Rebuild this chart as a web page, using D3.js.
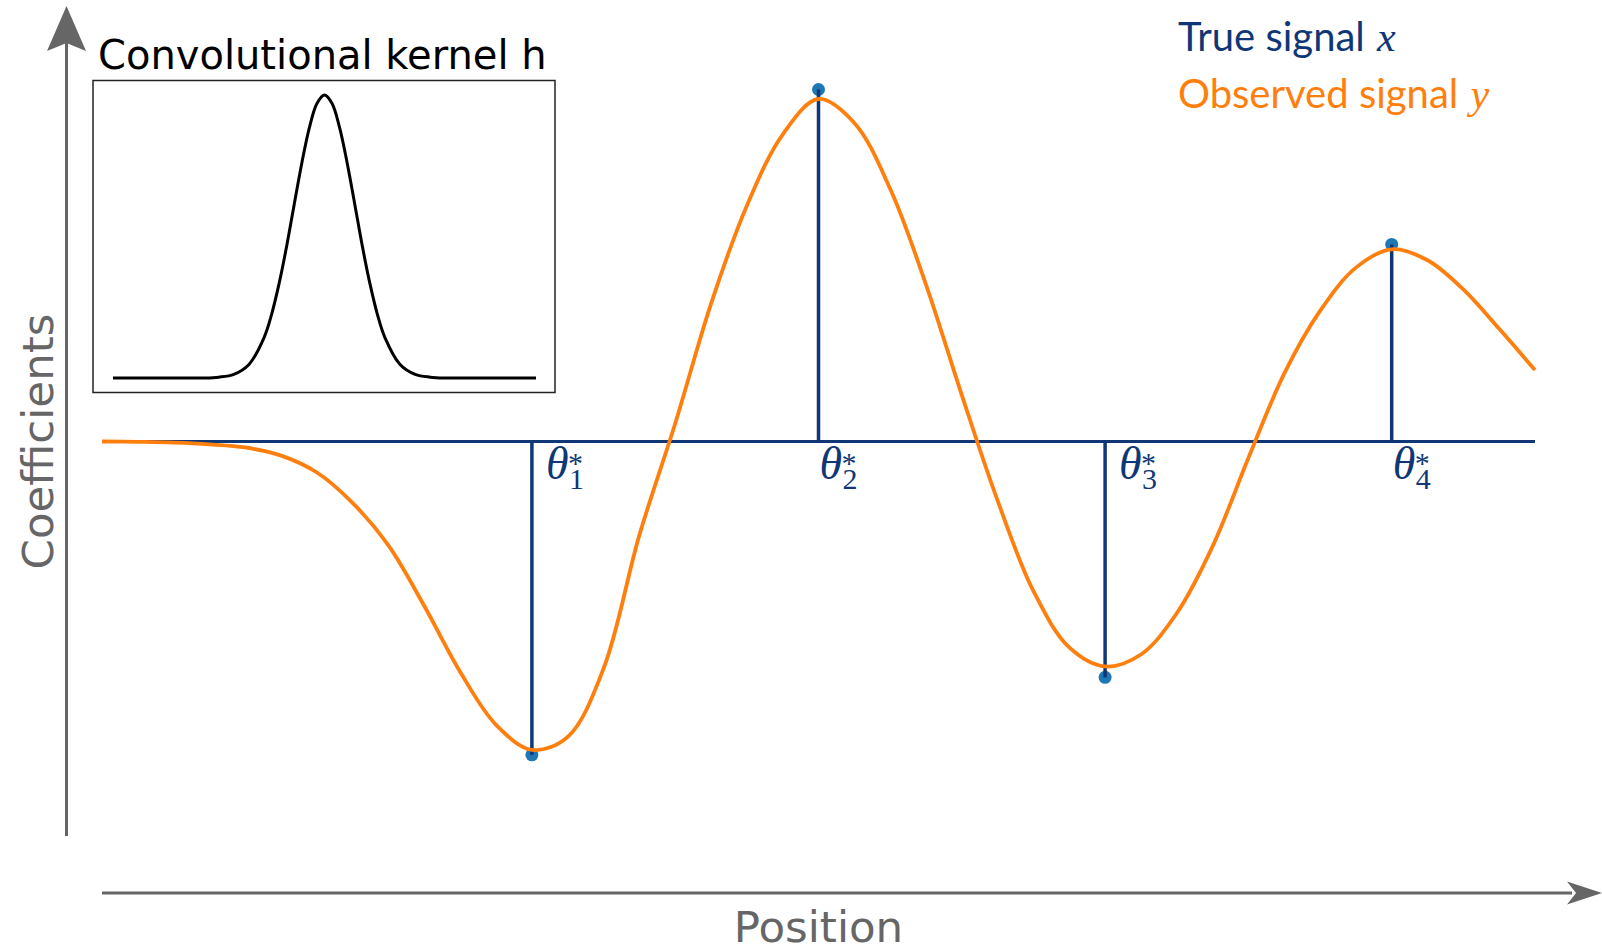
<!DOCTYPE html>
<html>
<head>
<meta charset="utf-8">
<script src="https://d3js.org/d3.v7.min.js"></script>
<style>
  body { margin: 0; background: #fff; }
</style>
</head>
<body>
<div id="chart"></div>
<script>
// spikes of the true signal x
const spikePos = [300, 500, 700, 900];
const spikeAmp = [-0.89, 1.0, -0.67, 0.56];
const spikeNames = ["1", "2", "3", "4"];

// observed signal y, sampled along the position axis
const obsPos = [0, 25, 50, 75, 100, 125, 150, 175, 200, 225, 250, 275, 300, 325, 350, 375, 400,
  425, 450, 475, 500, 525, 550, 575, 600, 625, 650, 675, 700, 725, 750, 775, 800, 825, 850, 875,
  900, 925, 950, 975, 1000];
const obsVal = [0, -0.001, -0.003, -0.008, -0.017, -0.040, -0.088, -0.175, -0.296, -0.468, -0.655,
  -0.805, -0.876, -0.839, -0.645, -0.266, 0.051, 0.391, 0.670, 0.872, 0.973, 0.905, 0.718, 0.446,
  0.132, -0.168, -0.425, -0.585, -0.639, -0.605, -0.488, -0.298, -0.047, 0.193, 0.371, 0.494,
  0.546, 0.515, 0.432, 0.320, 0.203];

// convolutional kernel h (inset)
const kernelPos = [-7, -6, -5, -4, -3.5, -3, -2.5, -2, -1.75, -1.5, -1.25, -1, -0.75, -0.5, -0.25, 0,
  0.25, 0.5, 0.75, 1, 1.25, 1.5, 1.75, 2, 2.5, 3, 3.5, 4, 5, 6, 7];
const kernelVal = [0, 0, 0, 0, 0.003, 0.013, 0.048, 0.143, 0.225, 0.335, 0.467, 0.615, 0.76, 0.885, 0.97, 1,
  0.97, 0.885, 0.76, 0.615, 0.467, 0.335, 0.225, 0.143, 0.048, 0.013, 0.003, 0, 0, 0, 0];

const W = 1602, H = 952;
const navy = "#0f3776";
const orange = "#ff7f0e";
const grey = "#666666";

const svg = d3.select("#chart").append("svg")
  .attr("width", W)
  .attr("height", H);

const x = d3.scaleLinear().domain([0, 1000]).range([102, 1535]);
const y = d3.scaleLinear().domain([-1, 1]).range([793.5, 89.5]);

// Axes (arrows)
svg.append("line")
  .attr("x1", 66.5).attr("x2", 66.5)
  .attr("y1", 836).attr("y2", 42)
  .attr("stroke", grey).attr("stroke-width", 3);
svg.append("path")
  .attr("d", "M66.5,6 L86,51 L66.5,43 L47,51 Z")
  .attr("fill", grey);

svg.append("line")
  .attr("x1", 102).attr("x2", 1572)
  .attr("y1", 893).attr("y2", 893)
  .attr("stroke", grey).attr("stroke-width", 3);
svg.append("path")
  .attr("d", "M1602,893 L1567,881.5 L1576,893 L1567,904.5 Z")
  .attr("fill", grey);

svg.append("text")
  .attr("x", 818.5)
  .attr("y", 941.5)
  .attr("text-anchor", "middle")
  .style("font-family", "DejaVu Sans")
  .style("font-size", "43.5px")
  .attr("fill", grey)
  .text("Position");

svg.append("text")
  .attr("transform", "translate(53,441.5) rotate(-90)")
  .attr("text-anchor", "middle")
  .style("font-family", "DejaVu Sans")
  .style("font-size", "43.5px")
  .attr("fill", grey)
  .text("Coefficients");

// true signal: dots, stems and zero line
svg.selectAll(".dot")
  .data(spikePos)
  .enter()
  .append("circle")
  .attr("class", "dot")
  .attr("cx", d => x(d))
  .attr("cy", (d, i) => y(spikeAmp[i]))
  .attr("r", 6.5)
  .attr("fill", "#1f77b4");

svg.append("line")
  .attr("x1", x(0)).attr("x2", x(1000))
  .attr("y1", y(0)).attr("y2", y(0))
  .attr("stroke", navy).attr("stroke-width", 3);

svg.selectAll(".stem")
  .data(spikePos)
  .enter()
  .append("line")
  .attr("class", "stem")
  .attr("x1", d => x(d)).attr("x2", d => x(d))
  .attr("y1", y(0))
  .attr("y2", (d, i) => y(spikeAmp[i]))
  .attr("stroke", navy)
  .attr("stroke-width", 3.5);

// observed signal
const line = d3.line()
  .x(d => x(d[0]))
  .y(d => y(d[1]))
  .curve(d3.curveCatmullRom.alpha(0.5));

svg.append("path")
  .datum(obsPos.map((p, i) => [p, obsVal[i]]))
  .attr("fill", "none")
  .attr("stroke", orange)
  .attr("stroke-width", 3.8)
  .attr("d", line);

// theta labels
const labels = svg.selectAll(".lab")
  .data(spikePos)
  .enter()
  .append("text")
  .attr("class", "lab")
  .attr("fill", navy)
  .style("font-family", "Liberation Serif");

const labX = (d, i) => x(d) + (spikeAmp[i] < 0 ? 14 : 1);

labels.append("tspan")
  .attr("x", labX)
  .attr("y", y(0) + 37)
  .style("font-style", "italic")
  .style("font-size", "46px")
  .text("\u03b8");
labels.append("tspan")
  .attr("x", (d, i) => labX(d, i) + 23)
  .attr("y", y(0) + 47)
  .style("font-size", "30px")
  .text((d, i) => spikeNames[i]);
labels.append("tspan")
  .attr("x", (d, i) => labX(d, i) + 22)
  .attr("y", y(0) + 31)
  .style("font-size", "30px")
  .text("*");

// legend
const legend = [
  { name: "True signal ", sym: "x", color: navy },
  { name: "Observed signal ", sym: "y", color: orange }
];
const leg = svg.selectAll(".leg")
  .data(legend)
  .enter()
  .append("text")
  .attr("class", "leg")
  .attr("x", 1178)
  .attr("y", (d, i) => 51 + i * 57)
  .attr("fill", d => d.color)
  .style("font-family", "Lato")
  .style("font-size", "40px");
leg.append("tspan").text(d => d.name);
leg.append("tspan")
  .attr("dx", 2)
  .style("font-family", "Liberation Serif")
  .style("font-style", "italic")
  .style("font-size", "42px")
  .text(d => d.sym);

// inset: convolutional kernel h
const inset = svg.append("g");
inset.append("rect")
  .attr("x", 93).attr("y", 80.5)
  .attr("width", 462).attr("height", 312)
  .attr("fill", "#fff")
  .attr("stroke", "#222")
  .attr("stroke-width", 1.5);

const kx = d3.scaleLinear().domain([-7, 7]).range([113, 536]);
const ky = d3.scaleLinear().domain([0, 1]).range([378, 95]);

inset.append("path")
  .datum(kernelPos.map((p, i) => [p, kernelVal[i]]))
  .attr("fill", "none")
  .attr("stroke", "#000")
  .attr("stroke-width", 3)
  .attr("d", d3.line().x(d => kx(d[0])).y(d => ky(d[1])).curve(d3.curveCatmullRom.alpha(0.5)));

svg.append("text")
  .attr("x", 98)
  .attr("y", 69)
  .style("font-family", "DejaVu Sans")
  .style("font-size", "40px")
  .attr("fill", "#000")
  .text("Convolutional kernel h");
</script>
</body>
</html>
